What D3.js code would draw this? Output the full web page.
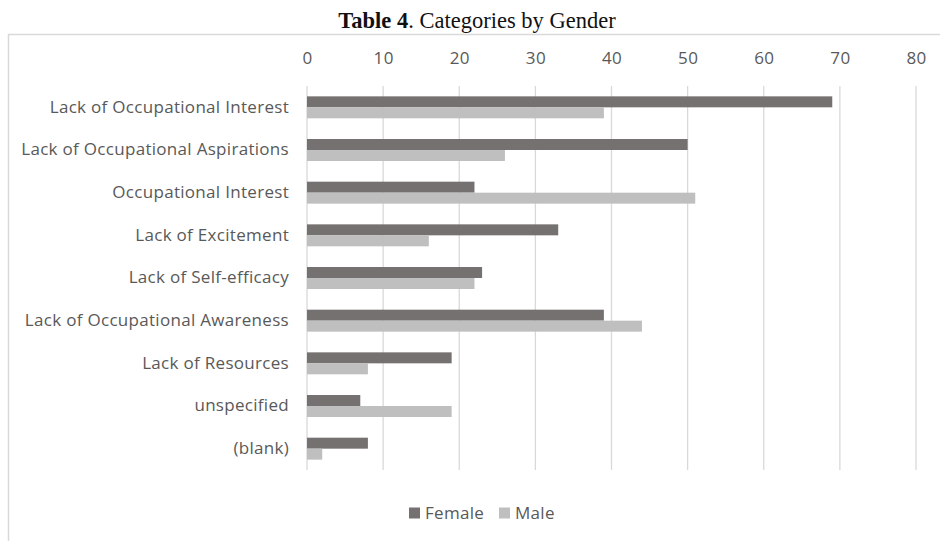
<!DOCTYPE html>
<html><head><meta charset="utf-8">
<script src="https://cdn.jsdelivr.net/npm/d3@7"></script>
<style>body{margin:0;background:#fff}</style>
</head><body>
<svg id="c" width="940" height="541"></svg>
<script>
const categories = ["Lack of Occupational Interest","Lack of Occupational Aspirations","Occupational Interest","Lack of Excitement","Lack of Self-efficacy","Lack of Occupational Awareness","Lack of Resources","unspecified","(blank)"];
const female = [69,50,22,33,23,39,19,7,8];
const male = [39,26,51,16,22,44,8,19,2];
const xTicks = [0,10,20,30,40,50,60,70,80];
const seriesNames = ["Female","Male"];
const colors = ["#767171","#BFBFBF"];

const svg = d3.select("#c");
const font = "'Open Sans', sans-serif";
const x = d3.scaleLinear().domain([0,80]).range([307,916]);
const y = d3.scaleBand().domain(categories).range([86,470]).paddingInner(0.485).paddingOuter(0.2425);
const sub = d3.scaleBand().domain(seriesNames).range([0,y.bandwidth()]);

// border
svg.append("path").attr("d","M8.5,541 L8.5,34.5 L940,34.5").attr("fill","none").attr("stroke","#D9D9D9").attr("stroke-width",1.5);

// title
const t = svg.append("text").attr("x",477).attr("y",27.5).attr("text-anchor","middle")
  .attr("font-family","'Liberation Serif','Times New Roman',serif").attr("font-size",22.5).attr("fill","#111");
t.append("tspan").attr("font-weight","bold").text("Table 4");
t.append("tspan").text(". Categories by Gender");

// grid
svg.append("g").selectAll("line").data(xTicks).join("line")
  .attr("x1",d=>x(d)).attr("x2",d=>x(d)).attr("y1",86).attr("y2",470)
  .attr("stroke","#D9D9D9").attr("stroke-width",1.3);

// top axis labels
const ax = svg.append("g").attr("transform","translate(0,58)").call(d3.axisTop(x).tickValues(xTicks).tickSize(0).tickPadding(0));
ax.select(".domain").remove();
ax.selectAll("text").attr("font-family",font).attr("font-size",17).attr("letter-spacing",0.3).attr("fill","#595959").attr("dy","0.35em");

// category labels
const ay = svg.append("g").attr("transform","translate(289,0)").call(d3.axisLeft(y).tickSize(0).tickPadding(0));
ay.select(".domain").remove();
ay.selectAll("text").attr("font-family",font).attr("font-size",17).attr("letter-spacing",0.3).attr("fill","#595959");

// bars
const data = categories.map((c,i)=>({c, vals:[female[i],male[i]]}));
const g = svg.append("g").selectAll("g").data(data).join("g").attr("transform",d=>`translate(0,${y(d.c)})`);
g.selectAll("rect").data(d=>d.vals.map((v,j)=>({v,s:seriesNames[j],j}))).join("rect")
  .attr("x",x(0)).attr("y",d=>sub(d.s)).attr("height",sub.bandwidth())
  .attr("width",d=>x(d.v)-x(0)).attr("fill",d=>colors[d.j]);

// legend
const lg = svg.append("g").attr("transform","translate(0,513)");
const pos = [409,499];
seriesNames.forEach((s,i)=>{
  lg.append("rect").attr("x",pos[i]).attr("y",-5.5).attr("width",11).attr("height",11).attr("fill",colors[i]);
  lg.append("text").attr("x",pos[i]+16).attr("y",0).attr("dy","0.35em").attr("font-family",font).attr("font-size",17).attr("letter-spacing",0.3).attr("fill","#595959").text(s);
});
</script>
</body></html>
